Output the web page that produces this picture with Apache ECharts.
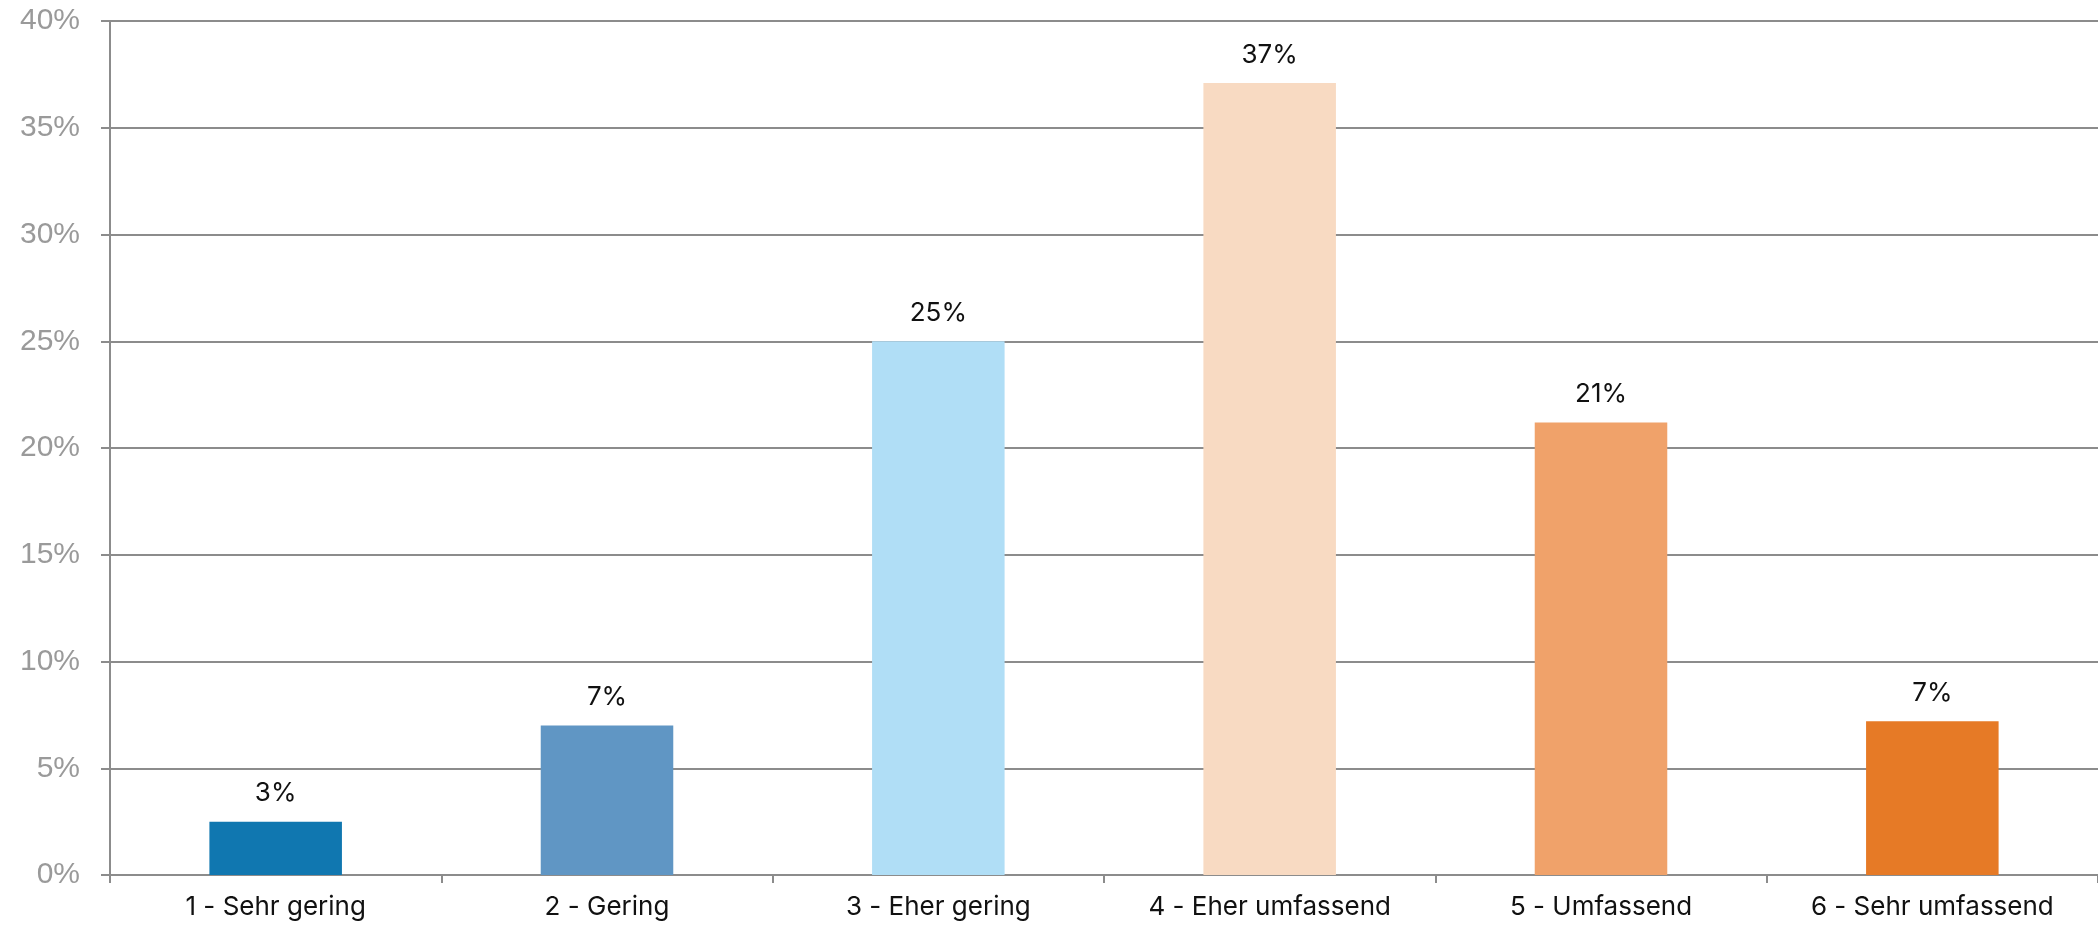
<!DOCTYPE html>
<html>
<head>
<meta charset="utf-8">
<script src="https://cdn.jsdelivr.net/npm/echarts@6/dist/echarts.min.js"></script>
<style>
html,body{margin:0;padding:0;background:#fff;}
#chart{width:2098px;height:926px;}
</style>
</head>
<body>
<div id="chart"></div>
<script>
var categories = ['1 - Sehr gering', '2 - Gering', '3 - Eher gering', '4 - Eher umfassend', '5 - Umfassend', '6 - Sehr umfassend'];
var values = [2.5, 7.0, 25.0, 37.1, 21.2, 7.2];
var valueLabels = ['3%', '7%', '25%', '37%', '21%', '7%'];
var barColors = ['#1077B0', '#6096C4', '#B0DEF6', '#F8DAC2', '#F0A26A', '#E67A26'];
var yTicks = [0, 5, 10, 15, 20, 25, 30, 35, 40];

var chart = echarts.init(document.getElementById('chart'));
chart.setOption({
  animation: false,
  backgroundColor: '#fff',
  grid: {left: 110, right: -5, top: 21, bottom: 51, containLabel: false},
  xAxis: {
    type: 'category',
    data: categories,
    axisLine: {show: true, lineStyle: {color: '#8c8c8c', width: 2}},
    axisTick: {show: true, alignWithLabel: false, length: 8, lineStyle: {color: '#8c8c8c', width: 2}},
    axisLabel: {color: '#111', fontFamily: 'Inter', fontSize: 26, margin: 19}
  },
  yAxis: {
    type: 'value',
    min: yTicks[0],
    max: yTicks[yTicks.length - 1],
    interval: 5,
    axisLine: {show: true, lineStyle: {color: '#8c8c8c', width: 2}},
    axisTick: {show: true, length: 9, lineStyle: {color: '#8c8c8c', width: 2}},
    splitLine: {show: true, lineStyle: {color: '#8c8c8c', width: 2}},
    axisLabel: {color: '#9a9a9a', fontFamily: 'Liberation Sans', fontSize: 30, margin: 30, formatter: '{value}%'}
  },
  series: [{
    type: 'bar',
    barWidth: '40%',
    data: values.map(function (v, i) {
      return {value: v, itemStyle: {color: barColors[i]}};
    }),
    label: {
      show: true,
      position: 'top',
      distance: 15,
      color: '#111',
      fontFamily: 'Inter',
      fontSize: 26,
      formatter: function (p) { return valueLabels[p.dataIndex]; }
    }
  }]
});
</script>
</body>
</html>
